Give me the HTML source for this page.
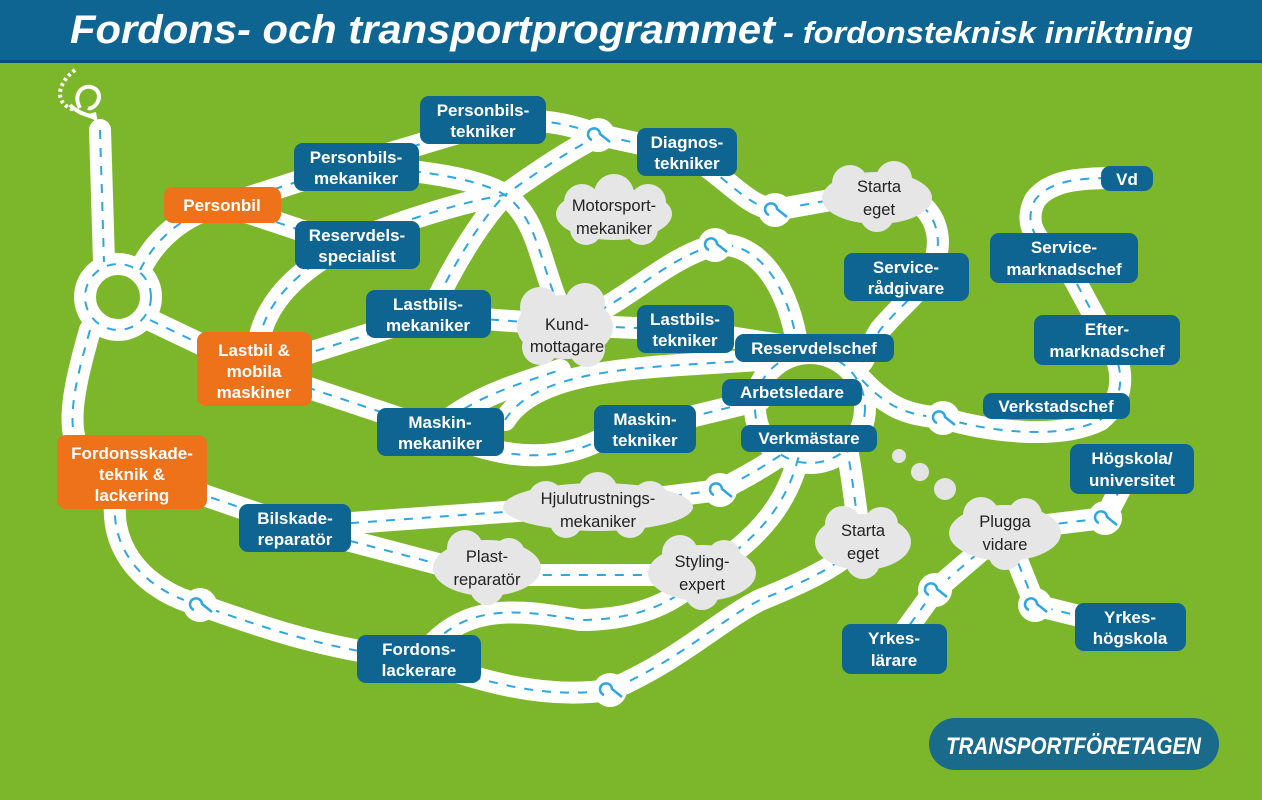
<!DOCTYPE html>
<html><head><meta charset="utf-8"><style>
html,body{margin:0;padding:0}
body{width:1262px;height:800px;overflow:hidden;background:#7cb62a;font-family:"Liberation Sans",sans-serif}
svg{display:block}
.n{font-family:"Liberation Sans",sans-serif;font-weight:bold;font-size:17px;fill:#fff;text-anchor:middle}
.c{font-family:"Liberation Sans",sans-serif;font-size:16.5px;fill:#222;text-anchor:middle}
</style></head><body>
<svg width="1262" height="800" viewBox="0 0 1262 800" xmlns="http://www.w3.org/2000/svg">
<rect width="1262" height="800" fill="#7cb62a"/>
<rect width="1262" height="60" fill="#0f6591"/>
<rect y="60" width="1262" height="3" fill="#0a4f73"/>
<text x="70" y="43" textLength="705" lengthAdjust="spacingAndGlyphs" font-family="Liberation Sans" font-weight="bold" font-style="italic" font-size="40" fill="#fff">Fordons- och transportprogrammet</text>
<text x="783" y="43" textLength="410" lengthAdjust="spacingAndGlyphs" font-family="Liberation Sans" font-weight="bold" font-style="italic" font-size="31" fill="#fff">- fordonsteknisk inriktning</text>

<defs>
<g id="roads">
<path d="M100,130 L104,262"/>
<circle cx="118" cy="297" r="33"/>
<path d="M140,270 C160,230 195,210 225,205 L340,168 L485,125 C540,115 570,125 600,135 L690,155 C730,180 745,205 775,210 L875,192 C930,190 945,230 935,260 C925,290 905,300 880,330 L862,362"/>
<path d="M225,205 L345,245"/>
<path d="M345,245 C300,270 265,300 258,345"/>
<path d="M150,320 L255,370 L430,315 L565,325 L685,330 L780,345"/>
<path d="M255,370 L435,430 C480,450 540,470 600,440 L645,428 L760,400"/>
<path d="M340,165 C430,170 480,180 505,195 C540,220 540,270 565,320"/>
<path d="M345,245 C400,220 470,200 505,195 C540,170 570,150 600,135"/>
<path d="M430,315 C450,270 480,220 505,195"/>
<path d="M565,325 C620,310 660,260 715,245 C760,240 790,290 798,350"/>
<path d="M435,430 C470,400 500,390 560,370"/>
<path d="M505,420 C530,380 600,370 680,365 L760,360"/>
<circle cx="810" cy="408" r="55"/>
<path d="M862,380 C890,410 910,415 943,418 C990,432 1060,440 1100,420 C1125,400 1125,370 1110,345 L1065,262 C1030,240 1025,220 1035,200 C1050,180 1080,178 1115,178"/>
<path d="M90,330 C70,400 60,450 100,470"/>
<path d="M120,480 C100,540 140,590 200,605 C270,630 330,650 420,660 C480,680 540,700 610,690 C680,660 720,620 760,600 C810,580 850,560 860,540 C855,500 850,460 845,440"/>
<path d="M160,480 L297,527 L600,505 L720,490 C760,470 790,450 800,440"/>
<path d="M297,527 L480,575 L700,575 C760,540 790,500 800,450"/>
<path d="M420,660 C460,600 520,610 580,620 C640,620 680,600 700,575"/>
<path d="M1005,530 L1105,518 L1130,470"/>
<path d="M1005,530 L935,590 L895,645"/>
<path d="M1005,530 L1035,605 L1115,625"/>
</g>
</defs>
<g fill="none" stroke="#fff" stroke-width="22" stroke-linecap="round" stroke-linejoin="round"><use href="#roads"/></g>
<g fill="none" stroke="#2ea6df" stroke-width="2" stroke-dasharray="9 9"><use href="#roads"/></g>

<g fill="#fff">
<circle cx="598" cy="135" r="17"/><circle cx="775" cy="210" r="17"/><circle cx="715" cy="245" r="17"/>
<circle cx="943" cy="418" r="17"/><circle cx="720" cy="490" r="17"/><circle cx="200" cy="605" r="17"/>
<circle cx="610" cy="690" r="17"/><circle cx="1105" cy="518" r="17"/><circle cx="935" cy="590" r="17"/><circle cx="1035" cy="605" r="17"/>
</g>
<g fill="none" stroke="#2ea6df" stroke-width="2.5">
<path d="M592,140 a6,6 0 1 1 8,-6 l10,8"/><path d="M769,215 a6,6 0 1 1 8,-6 l10,8"/><path d="M709,250 a6,6 0 1 1 8,-6 l10,8"/>
<path d="M937,423 a6,6 0 1 1 8,-6 l10,8"/><path d="M714,495 a6,6 0 1 1 8,-6 l10,8"/><path d="M194,610 a6,6 0 1 1 8,-6 l10,8"/>
<path d="M604,695 a6,6 0 1 1 8,-6 l10,8"/><path d="M1099,523 a6,6 0 1 1 8,-6 l10,8"/><path d="M929,595 a6,6 0 1 1 8,-6 l10,8"/><path d="M1029,610 a6,6 0 1 1 8,-6 l10,8"/>
</g>
<path d="M75,70 C55,85 55,105 75,110" fill="none" stroke="#fff" stroke-width="4" stroke-dasharray="3 3"/>
<path d="M70,105 C80,115 90,115 95,118 M80,108 C70,90 90,80 98,92 C102,102 92,110 88,108" fill="none" stroke="#fff" stroke-width="4"/>
<path d="M88,114 L98,124 L96,112 Z" fill="#fff"/>

<g fill="#e4e4e4"><circle cx="899" cy="456" r="7"/><circle cx="920" cy="472" r="9"/><circle cx="945" cy="489" r="11"/></g>

<g fill="#e6e6e6">
<g transform="translate(614,214)"><ellipse rx="58" ry="26"/><circle cx="-32" cy="-12" r="18"/><circle cx="0" cy="-20" r="20"/><circle cx="34" cy="-12" r="18"/><circle cx="-28" cy="15" r="16"/><circle cx="28" cy="15" r="16"/></g>
<g transform="translate(565,327)"><ellipse rx="48" ry="32"/><circle cx="-25" cy="-20" r="20"/><circle cx="20" cy="-24" r="20"/><circle cx="-25" cy="20" r="18"/><circle cx="22" cy="22" r="18"/></g>
<g transform="translate(877,198)"><ellipse rx="55" ry="26"/><circle cx="-27" cy="-15" r="18"/><circle cx="17" cy="-19" r="18"/><circle cx="0" cy="17" r="17"/></g>
<g transform="translate(598,507)"><ellipse rx="95" ry="24"/><circle cx="-52" cy="-8" r="18"/><circle cx="0" cy="-15" r="20"/><circle cx="52" cy="-8" r="18"/><circle cx="-32" cy="15" r="16"/><circle cx="32" cy="15" r="16"/></g>
<g transform="translate(487,568)"><ellipse rx="54" ry="28"/><circle cx="-22" cy="-20" r="18"/><circle cx="22" cy="-14" r="16"/><circle cx="0" cy="20" r="17"/></g>
<g transform="translate(702,573)"><ellipse rx="54" ry="28"/><circle cx="-22" cy="-20" r="18"/><circle cx="22" cy="-16" r="17"/><circle cx="0" cy="20" r="17"/></g>
<g transform="translate(863,542)"><ellipse rx="48" ry="28"/><circle cx="-20" cy="-18" r="18"/><circle cx="18" cy="-18" r="17"/><circle cx="0" cy="20" r="17"/></g>
<g transform="translate(1005,533)"><ellipse rx="56" ry="28"/><circle cx="-24" cy="-18" r="18"/><circle cx="20" cy="-18" r="17"/><circle cx="0" cy="20" r="17"/></g>
</g>
<g>
<text class="c" x="614" y="211">Motorsport-</text><text class="c" x="614" y="234">mekaniker</text>
<text class="c" x="567" y="330">Kund-</text><text class="c" x="567" y="352">mottagare</text>
<text class="c" x="879" y="192">Starta</text><text class="c" x="879" y="215">eget</text>
<text class="c" x="598" y="504">Hjulutrustnings-</text><text class="c" x="598" y="527">mekaniker</text>
<text class="c" x="487" y="562">Plast-</text><text class="c" x="487" y="585">reparatör</text>
<text class="c" x="702" y="567">Styling-</text><text class="c" x="702" y="590">expert</text>
<text class="c" x="863" y="536">Starta</text><text class="c" x="863" y="559">eget</text>
<text class="c" x="1005" y="527">Plugga</text><text class="c" x="1005" y="550">vidare</text>
</g>

<g fill="#0f6591">
<rect x="420" y="96" width="126" height="48" rx="9"/>
<rect x="294" y="143" width="125" height="48" rx="9"/>
<rect x="295" y="221" width="125" height="48" rx="9"/>
<rect x="637" y="128" width="100" height="48" rx="9"/>
<rect x="366" y="290" width="125" height="48" rx="9"/>
<rect x="637" y="305" width="97" height="48" rx="9"/>
<rect x="377" y="408" width="127" height="48" rx="9"/>
<rect x="594" y="405" width="102" height="48" rx="9"/>
<rect x="844" y="253" width="125" height="48" rx="9"/>
<rect x="735" y="334" width="159" height="28" rx="9"/>
<rect x="722" y="379" width="140" height="27" rx="9"/>
<rect x="741" y="425" width="136" height="27" rx="9"/>
<rect x="990" y="233" width="148" height="50" rx="9"/>
<rect x="1034" y="315" width="146" height="50" rx="9"/>
<rect x="983" y="393" width="147" height="26" rx="9"/>
<rect x="1101" y="166" width="52" height="25" rx="9"/>
<rect x="1070" y="444" width="124" height="50" rx="9"/>
<rect x="239" y="504" width="112" height="48" rx="9"/>
<rect x="357" y="635" width="124" height="48" rx="9"/>
<rect x="842" y="624" width="105" height="50" rx="9"/>
<rect x="1075" y="603" width="111" height="48" rx="9"/>
</g>
<g fill="#ee7219">
<rect x="164" y="187" width="117" height="36" rx="9"/>
<rect x="197" y="332" width="115" height="74" rx="9"/>
<rect x="57" y="435" width="150" height="74" rx="9"/>
</g>
<g>
<text class="n" x="483" y="116">Personbils-</text><text class="n" x="483" y="137">tekniker</text>
<text class="n" x="356" y="163">Personbils-</text><text class="n" x="356" y="184">mekaniker</text>
<text class="n" x="357" y="241">Reservdels-</text><text class="n" x="357" y="262">specialist</text>
<text class="n" x="687" y="148">Diagnos-</text><text class="n" x="687" y="169">tekniker</text>
<text class="n" x="428" y="310">Lastbils-</text><text class="n" x="428" y="331">mekaniker</text>
<text class="n" x="685" y="325">Lastbils-</text><text class="n" x="685" y="346">tekniker</text>
<text class="n" x="440" y="428">Maskin-</text><text class="n" x="440" y="449">mekaniker</text>
<text class="n" x="645" y="425">Maskin-</text><text class="n" x="645" y="446">tekniker</text>
<text class="n" x="906" y="273">Service-</text><text class="n" x="906" y="294">rådgivare</text>
<text class="n" x="814" y="354">Reservdelschef</text>
<text class="n" x="792" y="398">Arbetsledare</text>
<text class="n" x="809" y="444">Verkmästare</text>
<text class="n" x="1064" y="253">Service-</text><text class="n" x="1064" y="275">marknadschef</text>
<text class="n" x="1107" y="335">Efter-</text><text class="n" x="1107" y="357">marknadschef</text>
<text class="n" x="1056" y="412">Verkstadschef</text>
<text class="n" x="1127" y="185">Vd</text>
<text class="n" x="1132" y="464">Högskola/</text><text class="n" x="1132" y="486">universitet</text>
<text class="n" x="295" y="524">Bilskade-</text><text class="n" x="295" y="545">reparatör</text>
<text class="n" x="419" y="655">Fordons-</text><text class="n" x="419" y="676">lackerare</text>
<text class="n" x="894" y="644">Yrkes-</text><text class="n" x="894" y="666">lärare</text>
<text class="n" x="1130" y="623">Yrkes-</text><text class="n" x="1130" y="644">högskola</text>
<text class="n" x="222" y="211">Personbil</text>
<text class="n" x="254" y="356">Lastbil &amp;</text><text class="n" x="254" y="377">mobila</text><text class="n" x="254" y="398">maskiner</text>
<text class="n" x="132" y="459">Fordonsskade-</text><text class="n" x="132" y="480">teknik &amp;</text><text class="n" x="132" y="501">lackering</text>
</g>
<rect x="929" y="718" width="290" height="52" rx="26" fill="#1a6a8b"/>
<text x="946" y="754" textLength="255" lengthAdjust="spacingAndGlyphs" font-family="Liberation Sans" font-weight="bold" font-style="italic" font-size="24" fill="#fff">TRANSPORTFÖRETAGEN</text>
</svg>
</body></html>
